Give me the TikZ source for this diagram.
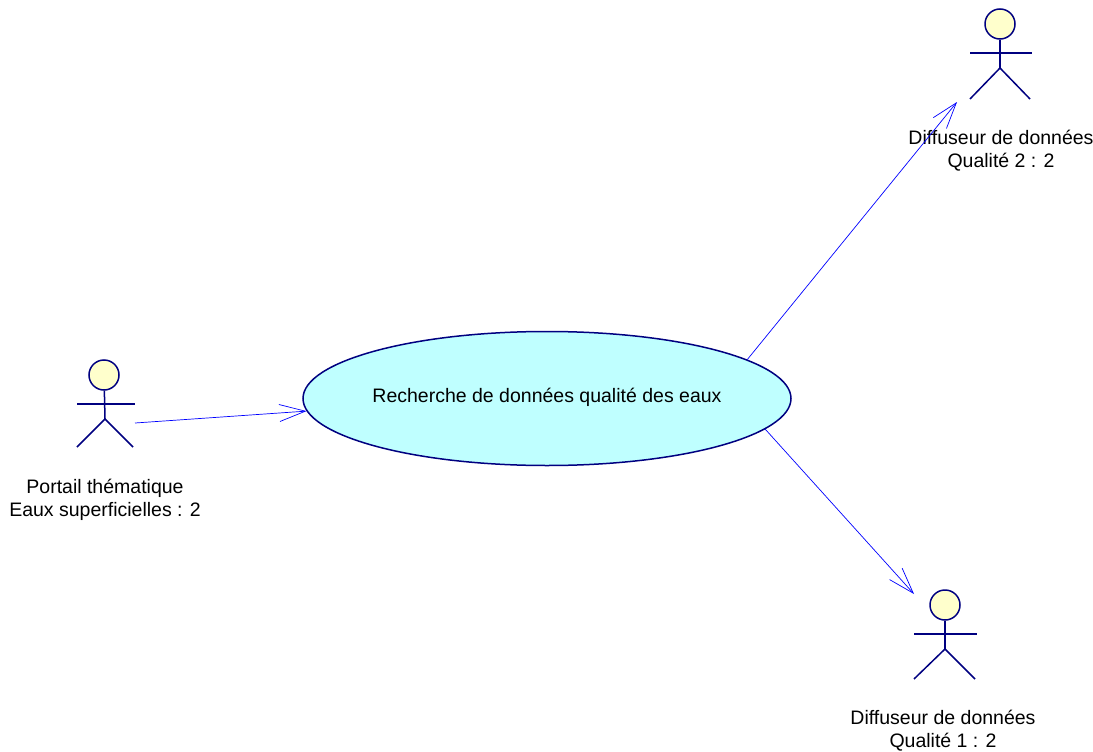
\documentclass[tikz,border=0pt]{standalone}
\usepackage{fontspec}
\setmainfont{Liberation Sans}
\usetikzlibrary{arrows.meta}
\usetikzlibrary{shapes.geometric}
\definecolor{actorblue}{HTML}{000080}
\definecolor{headfill}{HTML}{FFFFCC}
\definecolor{usefill}{HTML}{BFFFFF}
\definecolor{linkblue}{HTML}{0000FF}
\tikzset{
  head/.style={circle, draw=actorblue, fill=headfill, line width=1.5pt, minimum size=30pt, inner sep=0pt},
  limb/.style={draw=actorblue, line width=1.5pt},
  usecase/.style={ellipse, draw=actorblue, fill=usefill, line width=1.5pt, minimum width=488pt, minimum height=134pt, inner sep=0pt},
  link/.style={draw=linkblue, line width=0.7pt, -{Straight Barb[length=26pt,width=17pt]}},
  label/.style={align=center, font=\fontsize{19.5}{23}\selectfont, inner sep=0pt}
}
\begin{document}
\begin{tikzpicture}[x=1pt,y=-1pt]
  \useasboundingbox (0,0) rectangle (1093,752);
  \node[usecase] (uc) at (547,398.5) {};
  \node[label] (uclabel) at (547,397) {Recherche de données qualité des eaux};

  \node[head] (p0) at (104,375) {};
  \coordinate (p1) at (77,404);
  \coordinate (p2) at (135,404);
  \coordinate (p3) at (105,419);
  \coordinate (p4) at (77,447);
  \coordinate (p5) at (133,447);
  \coordinate (p6) at (135,423);
  \draw[limb] (p0) -- (p3);
  \draw[limb] (p1) -- (p2);
  \draw[limb] (p4) -- (p3) -- (p5);
  \node[label] (plabel) at (105,499.5) {Portail thématique\\Eaux superficielles : 2};

  \node[head] (d0) at (1000,24) {};
  \coordinate (d1) at (970,53);
  \coordinate (d2) at (1032,53);
  \coordinate (d3) at (1000,68);
  \coordinate (d4) at (970,99);
  \coordinate (d5) at (1030,99);
  \coordinate (d6) at (957,102);
  \draw[limb] (d0) -- (d3);
  \draw[limb] (d1) -- (d2);
  \draw[limb] (d4) -- (d3) -- (d5);
  \node[label] (dlabel) at (1001,151) {Diffuseur de données\\Qualité 2 : 2};

  \node[head] (e0) at (945,605) {};
  \coordinate (e1) at (914,634);
  \coordinate (e2) at (977,634);
  \coordinate (e3) at (945,649);
  \coordinate (e4) at (914,679);
  \coordinate (e5) at (975,679);
  \coordinate (e6) at (914,594);
  \draw[limb] (e0) -- (e3);
  \draw[limb] (e1) -- (e2);
  \draw[limb] (e4) -- (e3) -- (e5);
  \node[label] (elabel) at (943,731) {Diffuseur de données\\Qualité 1 : 2};

  \draw[link] (p6) -- (uc.183);
  \draw[link] (uc.11.5) -- (d6);
  \draw[link] (uc.-8.3) -- (e6);
\end{tikzpicture}
\end{document}
